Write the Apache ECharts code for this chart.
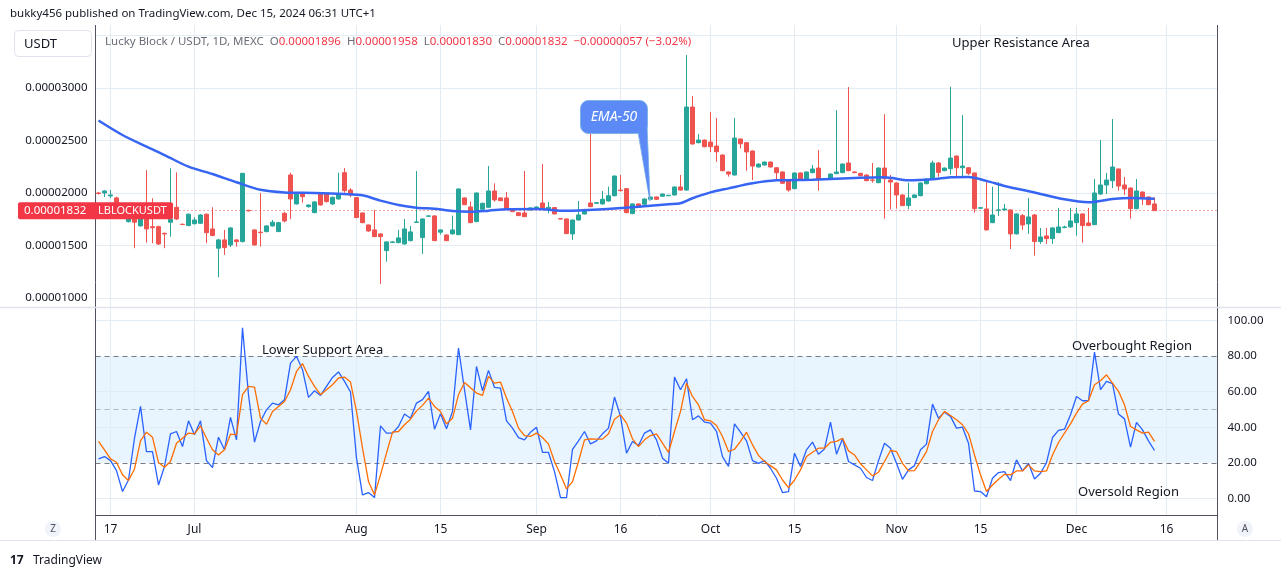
<!DOCTYPE html>
<html><head><meta charset="utf-8">
<script src="https://cdn.jsdelivr.net/npm/echarts@6/dist/echarts.min.js"></script>
<style>html,body{margin:0;padding:0;background:#fff;}#c{width:1281px;height:579px;}</style>
</head><body><div id="c"></div>
<script>
// ---- data (prices in units of 1e-8 USDT) ----
const opens = [2000,2000,1972,1953,1810,1727,1791,1687,1753,1680,1680,1617,1722,1864,1703,1690,1708,1712,1798,1658,1475,1554,1506,1554,1538,1835,1649,1627,1633,1687,1633,1807,2171,1896,1997,1870,1813,1990,1990,1896,1943,2193,2028,1956,1810,1696,1649,1611,1452,1530,1528,1515,1547,1720,1576,1779,1782,1627,1601,1611,1604,1953,1867,1728,1845,1864,2019,1953,1953,1845,1813,1810,1839,1855,1905,1851,1861,1756,1753,1611,1743,1800,1905,1902,1896,1924,1974,2028,2041,1804,1896,1893,1940,1962,1969,1974,1981,2057,2028,2817,2478,2503,2484,2446,2361,2200,2171,2513,2478,2399,2247,2266,2294,2240,2200,2117,2041,2190,2130,2193,2237,2130,2130,2184,2193,2285,2200,2187,2171,2123,2098,2237,2123,2095,1981,1880,1956,1974,2088,2133,2285,2212,2231,2351,2240,2240,2190,1855,1848,1718,1836,1839,1839,1611,1785,1706,1791,1538,1592,1566,1623,1671,1677,1718,1801,1715,1699,1990,2076,2117,2228,2076,2047,1851,2009,1962,1896];
const closes = [1995,2019,1981,1810,1780,1753,1722,1753,1658,1670,1515,1610,1750,1753,1700,1798,1743,1791,1623,1595,1554,1481,1668,1538,2187,1830,1506,1623,1687,1722,1718,1734,1943,1997,1965,1886,1915,1886,1918,1959,1990,2022,1981,1766,1718,1639,1585,1585,1535,1535,1573,1658,1630,1725,1753,1782,1547,1649,1547,1649,2038,1889,1718,2000,1902,2019,1934,1927,1845,1823,1785,1775,1858,1867,1855,1864,1801,1753,1614,1743,1791,1840,1870,1908,1940,1974,2161,2022,1813,1896,1864,1943,1962,1940,1990,1978,2057,2028,2817,2466,2503,2440,2440,2392,2212,2180,2522,2468,2390,2256,2275,2294,2247,2193,2092,2028,2190,2123,2200,2228,2130,2135,2180,2200,2275,2212,2193,2164,2117,2120,2237,2136,2104,1981,1880,1953,1981,2095,2133,2285,2196,2237,2332,2240,2256,2187,1851,1860,1649,1791,1839,1848,1611,1801,1696,1772,1538,1582,1566,1668,1677,1677,1734,1801,1690,1690,2000,2076,2123,2247,2066,2038,1851,2019,1953,1889,1832];
const highs = [2010,2025,2028,1965,1825,1760,1800,1765,2218,1950,1690,1622,2235,2196,1708,1805,1770,1800,1805,1864,1565,1649,1675,1560,2190,1840,1655,1997,1692,1743,1725,1820,2193,2002,2002,1890,1920,1995,1995,1965,2193,2237,2045,1962,1815,1700,1839,1615,1540,1540,1649,1753,1687,2209,1758,1786,1786,1652,1605,1785,2042,1958,1918,2005,1907,2256,2092,1958,2009,1850,1818,2209,1862,1872,2275,1915,1866,1758,1758,1748,1924,1850,2605,1912,2019,2060,2166,2171,2046,1900,1900,1948,1966,1966,1994,1982,2062,2171,3311,2921,2560,2508,2770,2712,2366,2205,2712,2518,2484,2404,2280,2299,2299,2245,2205,2122,2195,2195,2205,2266,2408,2140,2185,2788,2280,3007,2204,2192,2176,2285,2242,2750,2171,2100,1986,2098,1986,2100,2138,2307,2295,2242,3010,2356,2741,2245,2195,1864,2123,2060,2104,1896,1844,1806,1800,1953,1800,1668,1668,1673,1858,1690,1858,1858,1806,1858,2133,2503,2190,2703,2233,2152,2052,2133,2014,1967,1958];
const lows = [1985,1962,1953,1790,1760,1720,1475,1680,1528,1522,1505,1475,1585,1743,1695,1685,1700,1705,1522,1590,1199,1411,1487,1490,1530,1825,1500,1490,1625,1680,1628,1720,1753,1890,1908,1860,1808,1880,1908,1886,1938,2003,1959,1760,1712,1630,1580,1136,1347,1525,1522,1510,1540,1716,1421,1775,1542,1605,1542,1606,1598,1884,1712,1722,1840,1858,1918,1922,1840,1818,1780,1770,1834,1850,1850,1807,1796,1748,1608,1554,1738,1795,1865,1897,1890,1918,1968,2015,1808,1798,1858,1888,1935,1935,1964,1970,1976,2022,2022,2460,2472,2434,2390,2297,2206,2155,2165,2424,2212,2123,2242,2261,2242,2123,2087,2012,2036,2118,2125,2188,2022,2125,2125,2179,2188,2207,2188,2159,2112,2098,2093,1756,1842,1851,1875,1845,1951,1969,2083,2128,2155,2207,2174,2155,2142,2170,1813,1851,1644,1713,1782,1834,1468,1606,1649,1611,1405,1516,1516,1516,1618,1665,1672,1595,1528,1685,1694,1981,1990,2047,2022,1981,1756,1846,1886,1884,1830];
// EMA-50 at sample bars
const emaIdx = [0,4,8,11,15,19,23,27,31,36,41,44,47,50,53,56,59,62,65,68,73,78,84,90,95,97,99,102,105,109,113,119,127,131,135,139,142,145,148,151,156,161,165,169,172,176];
const emaVal = [2689,2551,2440,2361,2250,2180,2102,2030,2005,2000,1990,1978,1927,1886,1860,1849,1829,1822,1832,1845,1848,1830,1845,1870,1893,1902,1950,2006,2044,2092,2120,2126,2145,2149,2120,2130,2149,2152,2115,2067,2005,1940,1912,1943,1953,1946];
// Stochastic %K (blue) and %D (orange)
const stochK = [22.2,23.5,21.2,15.6,3.8,10.3,33.8,51.7,26.3,26.3,7.5,17.9,36.3,37.6,29.1,43.6,35.7,43.6,21.2,17.3,34.4,27.3,45.5,32.9,95.9,58.3,31.6,43.2,49.8,53.6,52.6,55.5,76.1,79.9,72.4,56.8,60.5,57.9,63.0,68.0,71.1,65.8,59.8,22.6,1.9,3.2,0.4,40.8,36.7,36.7,40.4,47.4,45.1,53.6,55.5,60.2,38.9,47.6,39.1,48.9,84.6,61.1,38.5,74.2,60.5,72.0,62.4,62.0,43.6,39.5,34.2,32.9,37.2,40.0,25.9,25.8,15.0,0.4,0.4,27.6,32.3,37.6,30.6,32.3,36.3,39.5,57.0,46.1,25.4,32.0,29.7,36.7,38.5,32.9,22.6,19.7,68.2,61.1,67.3,44.2,46.4,42.9,42.3,37.6,23.5,17.9,41.9,37.2,32.3,21.2,19.7,21.2,16.9,11.3,3.2,3.8,25.4,17.9,27.3,31.6,24.8,27.8,42.9,24.8,33.5,20.7,18.8,16.9,11.7,10.0,21.2,31.0,28.2,19.7,10.7,16.0,18.4,27.3,30.5,53.0,45.1,48.5,46.1,39.5,40.0,31.0,4.1,3.8,0.9,11.3,14.5,15.0,10.0,21.6,15.4,19.7,10.9,14.1,20.1,34.2,38.2,38.9,47.0,57.3,54.9,54.9,82.3,61.1,65.8,64.5,47.4,44.7,28.8,42.7,38.5,32.3,26.9];
const stochD = [32.0,27.3,22.2,20.3,13.2,10.0,16.5,32.3,37.2,34.4,20.1,17.5,20.7,31.0,33.8,36.7,36.3,40.8,33.8,27.3,24.4,27.3,36.1,35.7,58.3,63.0,62.6,45.1,41.7,48.9,51.7,54.5,61.1,71.4,75.8,68.6,63.0,58.3,61.1,63.9,67.7,68.2,65.4,48.9,28.2,9.4,1.9,13.2,25.4,37.2,37.6,41.4,44.5,49.2,52.3,56.4,51.7,48.9,41.9,45.1,58.3,65.2,62.2,59.2,57.9,68.6,64.8,65.4,56.4,48.9,39.5,35.3,34.8,36.7,34.2,30.5,20.7,13.2,5.3,9.4,20.7,32.9,33.5,33.3,33.3,36.3,44.5,47.0,42.3,33.5,29.1,32.9,35.3,36.3,31.0,25.8,37.6,48.9,64.8,57.3,52.6,44.2,43.6,41.0,34.8,26.3,27.6,32.0,37.2,30.1,24.1,20.7,18.4,16.0,10.3,6.0,10.3,16.0,23.5,25.9,28.2,28.2,31.5,32.0,33.8,26.7,24.4,19.4,16.0,12.6,14.7,20.7,26.9,26.3,19.7,15.4,15.6,20.7,26.3,37.6,44.2,48.9,46.6,44.2,41.4,36.3,24.4,13.2,3.8,7.5,10.7,13.5,13.2,15.4,15.4,18.8,15.4,15.0,15.4,24.4,31.4,36.7,41.9,47.9,53.0,54.9,63.9,66.2,69.5,64.8,60.2,52.6,40.4,38.5,36.7,37.2,32.0];
// time axis ticks (bar index -> label)
const tickIdx = [2,16,43,57,73,87,102,116,133,147,163,178];
const tickLabels = ['17','Jul','Aug','15','Sep','16','Oct','15','Nov','15','Dec','16'];
const priceTicks = [1000,1500,2000,2500,3000];
const priceGrid = [1000,1500,2000,2500,3000,3500];
const oscTicks = [0,20,40,60,80,100];

const NBARS = 187;
const cats = Array.from({length: NBARS}, (_, i) => String(i));
const candle = opens.map((o, i) => [o, closes[i], lows[i], highs[i]]);
const ema = emaIdx.map((ix, k) => [String(ix), emaVal[k]]);
const lastC = closes[closes.length - 1];
const prevC = closes[closes.length - 2];
const fmtP = v => (v / 1e8).toFixed(8);

const GRIDC = '#e3ecf3';
const FONT = 'Noto Sans';
const chart = echarts.init(document.getElementById('c'), null, {renderer: 'canvas'});

const vLines = tickIdx.map(i => ({xAxis: String(i)}));

chart.setOption({
  animation: false,
  backgroundColor: '#ffffff',
  textStyle: {fontFamily: FONT},
  grid: [
    {left: 95.5, top: 25, width: 1122, height: 282},
    {left: 95.5, top: 308, width: 1122, height: 207}
  ],
  xAxis: [
    {type: 'category', gridIndex: 0, data: cats, boundaryGap: true,
     axisLine: {show: false}, axisTick: {show: false}, axisLabel: {show: false}, splitLine: {show: false}},
    {type: 'category', gridIndex: 1, data: cats, boundaryGap: true,
     axisLine: {show: false}, axisTick: {show: false}, splitLine: {show: false},
     axisLabel: {show: true, margin: 9, color: '#131722', fontSize: 12, fontFamily: FONT,
       interval: (index) => tickIdx.indexOf(index) >= 0,
       formatter: (v) => { const k = tickIdx.indexOf(Number(v)); return k >= 0 ? tickLabels[k] : ''; }}}
  ],
  yAxis: [
    {type: 'value', gridIndex: 0, position: 'left', min: 916, max: 3597, scale: true,
     axisLine: {show: false}, axisTick: {show: false}, splitLine: {show: false},
     axisLabel: {customValues: priceTicks, formatter: fmtP, color: '#131722', fontSize: 11.5, margin: 8, fontFamily: FONT}},
    {type: 'value', gridIndex: 1, position: 'right', min: -9.4, max: 107.1,
     axisLine: {show: false}, axisTick: {show: false}, splitLine: {show: false},
     axisLabel: {customValues: oscTicks, formatter: v => v.toFixed(2), color: '#131722', fontSize: 11.5, margin: 10, fontFamily: FONT}}
  ],
  series: [
    {type: 'line', xAxisIndex: 0, yAxisIndex: 0, data: [], silent: true, z: 0,
     markLine: {silent: true, symbol: 'none', z: 0, label: {show: false},
       lineStyle: {color: GRIDC, width: 1, type: 'solid'},
       data: vLines.concat(priceGrid.map(v => ({yAxis: v})))}},
    {type: 'candlestick', xAxisIndex: 0, yAxisIndex: 0, data: candle, barWidth: 4, z: 3,
     itemStyle: {color: '#26a69a', color0: '#ef5350', borderColor: '#26a69a', borderColor0: '#ef5350', borderWidth: 1},
     markLine: {silent: true, symbol: 'none', z: 2, label: {show: false},
       lineStyle: {color: '#ef5350', width: 1, type: [1, 3]},
       data: [{yAxis: lastC}]}},
    {type: 'line', name: 'EMA-50', xAxisIndex: 0, yAxisIndex: 0, data: ema, showSymbol: false, smooth: 0.3, z: 4,
     lineStyle: {color: '#3565f2', width: 2.5}},
    {type: 'line', xAxisIndex: 1, yAxisIndex: 1, data: [], silent: true, z: 0,
     markArea: {silent: true, z: 0, itemStyle: {color: 'rgba(33,150,243,0.1)'}, data: [[{yAxis: 20}, {yAxis: 80}]]},
     markLine: {silent: true, symbol: 'none', z: 1, label: {show: false},
       data: vLines.map(d => Object.assign({lineStyle: {color: GRIDC, width: 1, type: 'solid'}}, d))
         .concat([0, 40, 60, 100].map(v => ({yAxis: v, lineStyle: {color: GRIDC, width: 1, type: 'solid'}})))
         .concat([20, 80].map(v => ({yAxis: v, lineStyle: {color: '#787b86', width: 1, type: [5, 4]}})))
         .concat([{yAxis: 50, lineStyle: {color: 'rgba(120,123,134,0.5)', width: 1, type: [5, 4]}}])}},
    {type: 'line', name: '%K', xAxisIndex: 1, yAxisIndex: 1, data: stochK, showSymbol: false, z: 4,
     lineStyle: {color: '#2962ff', width: 1.3}},
    {type: 'line', name: '%D', xAxisIndex: 1, yAxisIndex: 1, data: stochD, showSymbol: false, z: 5,
     lineStyle: {color: '#ff6d00', width: 1.3}}
  ]
});

const yc = chart.convertToPixel({yAxisIndex: 0}, lastC);
const chg = lastC - prevC;
const pct = (chg / prevC * 100).toFixed(2);
const minus = '\u2212';
const legend = '{g|Lucky Block / USDT, 1D, MEXC  O}{r|' + fmtP(opens[opens.length-1]) + '}{g|  H}{r|' + fmtP(highs[highs.length-1]) +
  '}{g|  L}{r|' + fmtP(lows[lows.length-1]) + '}{g|  C}{r|' + fmtP(lastC) + '  ' + (chg < 0 ? minus : '+') + fmtP(Math.abs(chg)) +
  ' (' + (chg < 0 ? minus : '+') + Math.abs(pct).toFixed(2) + '%)}';

const txt = (x, y, s, extra) => ({type: 'text', x: x, y: y, silent: true, z: 50,
  style: Object.assign({text: s, fill: '#131722', font: '13px "Noto Sans"', textVerticalAlign: 'middle'}, extra || {})});

chart.setOption({
  graphic: [
    txt(10, 14, 'bukky456 published on TradingView.com, Dec 15, 2024 06:31 UTC+1', {font: '11.5px "Noto Sans"'}),
    {type: 'rect', shape: {x: 14.5, y: 30.5, width: 77, height: 26, r: 4}, style: {fill: '#fff', stroke: '#e0e3eb', lineWidth: 1}, z: 40},
    txt(24, 44, 'USDT', {font: '13px "Noto Sans"'}),
    {type: 'text', x: 105, y: 42, z: 50, silent: true, style: {text: legend, textVerticalAlign: 'middle', rich: {
      g: {fill: '#6a6d78', font: '11.5px "Noto Sans"'}, r: {fill: '#f23645', font: '11.5px "Noto Sans"'}}}},
    // pane borders
    {type: 'line', shape: {x1: 95.5, y1: 25, x2: 95.5, y2: 540}, style: {stroke: '#50535e', lineWidth: 1}, z: 45},
    {type: 'line', shape: {x1: 1217.5, y1: 25, x2: 1217.5, y2: 540}, style: {stroke: '#50535e', lineWidth: 1}, z: 45},
    {type: 'line', shape: {x1: 0, y1: 307.5, x2: 1281, y2: 307.5}, style: {stroke: '#e0e3eb', lineWidth: 1.5}, z: 45},
    {type: 'line', shape: {x1: 95.5, y1: 515.5, x2: 1217.5, y2: 515.5}, style: {stroke: '#50535e', lineWidth: 1}, z: 45},
    {type: 'line', shape: {x1: 0, y1: 540.5, x2: 1281, y2: 540.5}, style: {stroke: '#e0e3eb', lineWidth: 1}, z: 45},
    // Z and A buttons
    {type: 'circle', shape: {cx: 53, cy: 529, r: 8}, style: {fill: '#f0f3fa'}, z: 45},
    txt(53, 529, 'Z', {font: '10px "Noto Sans"', textAlign: 'center', fill: '#50535e'}),
    {type: 'circle', shape: {cx: 1245, cy: 529, r: 8}, style: {fill: '#f0f3fa'}, z: 45},
    txt(1245, 529, 'A', {font: '10px "Noto Sans"', textAlign: 'center', fill: '#50535e'}),
    // TradingView footer
    txt(10, 561, '17', {font: 'bold 12px "Noto Sans"', fill: '#131722'}),
    txt(33, 561, 'TradingView', {font: '12px "Noto Sans"', fill: '#131722'}),
    // annotations
    txt(952, 43, 'Upper Resistance Area'),
    txt(262, 350, 'Lower Support Area'),
    txt(1072, 346, 'Overbought Region'),
    txt(1078, 492, 'Oversold Region'),
    // EMA-50 callout
    {type: 'polygon', shape: {points: [[638, 132], [647, 126], [650, 201]]}, style: {fill: '#5b8af6', stroke: '#7fb3e8', lineWidth: 1}, z: 46},
    {type: 'rect', shape: {x: 580.5, y: 100.5, width: 67, height: 33, r: 8}, style: {fill: '#5b8af6', stroke: '#7fb3e8', lineWidth: 1}, z: 47},
    {type: 'polygon', shape: {points: [[639, 132.5], [646.5, 128], [649.5, 199]]}, style: {fill: '#5b8af6'}, z: 48},
    txt(614, 117, 'EMA-50', {font: 'italic 14px "Noto Sans"', fill: '#ffffff', textAlign: 'center'}),
    // last price label
    {type: 'rect', shape: {x: 18, y: yc - 8.5, width: 155, height: 17, r: 2}, style: {fill: '#f23645'}, z: 48},
    txt(24, yc, fmtP(lastC), {font: '11.5px "Noto Sans"', fill: '#ffffff'}),
    txt(98, yc, 'LBLOCKUSDT', {font: '11px "Noto Sans"', fill: '#ffffff'})
  ]
});
</script>
</body></html>
